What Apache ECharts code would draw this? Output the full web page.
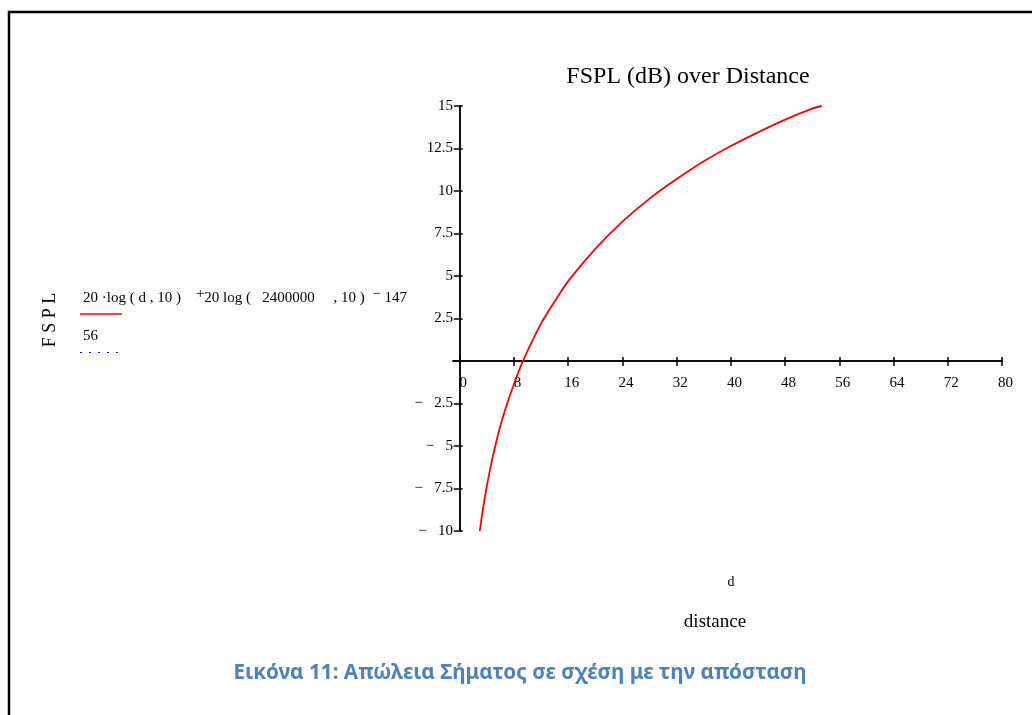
<!DOCTYPE html>
<html lang="el">
<head>
    <meta charset="UTF-8">
    <title>FSPL (dB) over Distance</title>
    <style>
        html,body {
            height: 100%;
            width: 100%;
            margin: 0;
            padding: 0;
            overflow: hidden;
            background: #fff;
        }
        #chart {
            width: 1032px;
            height: 715px;
        }
    </style>
</head>
<body>
    <div id="chart"></div>
</body>
<script type="text/javascript" src="https://cdn.jsdelivr.net/npm/echarts@6/dist/echarts.min.js"></script>
<script type="text/javascript">

    // values
    var distance = [2.95, 3.25, 3.5, 4, 4.5, 5, 6, 7, 8, 9, 10, 12, 14, 16, 20, 24, 28, 32, 36, 40, 44, 48, 52, 53.4];
    var fspl = [-10, -9.15, -8.5, -7.35, -6.33, -5.4, -3.8, -2.5, -1.35, -0.3, 0.6, 2.2, 3.5, 4.7, 6.6, 8.2, 9.55, 10.7, 11.75, 12.65, 13.45, 14.2, 14.85, 15];
    var xTicks = [0, 8, 16, 24, 32, 40, 48, 56, 64, 72, 80];
    var yTicks = [-10, -7.5, -5, -2.5, 2.5, 5, 7.5, 10, 12.5, 15];

    var serif = '"Liberation Serif", "DejaVu Serif", serif';

    function fsplChart() {
        var points = distance.map(function (d, i) {
            return [d, fspl[i]];
        });

        var lineStyle = { color: '#000', width: 1.5 };

        var option = {
            animation: false,
            backgroundColor: '#fff',
            title: {
                text: 'FSPL (dB) over Distance',
                left: 683,
                top: 60,
                textAlign: 'center',
                textStyle: {
                    fontFamily: serif,
                    fontWeight: 'normal',
                    fontSize: 24,
                    color: '#000'
                }
            },
            grid: {
                left: 453,
                right: 30,
                top: 106,
                bottom: 184
            },
            xAxis: [{
                type: 'value',
                min: -1,
                max: 80,
                position: 'bottom',
                axisLine: { onZero: true, onZeroAxisIndex: 0, lineStyle: lineStyle },
                axisTick: { customValues: xTicks, length: 5, lineStyle: lineStyle },
                axisLabel: {
                    customValues: xTicks,
                    // labels sit at the grid edge, pull them up under the zero line
                    margin: -155,
                    padding: [0, 0, 0, 7],
                    fontFamily: serif,
                    fontSize: 15,
                    color: '#000'
                },
                splitLine: { show: false }
            }, {
                // second copy only for the upward half of the ticks
                type: 'value',
                min: -1,
                max: 80,
                position: 'top',
                axisLine: { onZero: true, onZeroAxisIndex: 0, lineStyle: lineStyle },
                axisTick: { customValues: xTicks, length: 4, lineStyle: lineStyle },
                axisLabel: { show: false },
                splitLine: { show: false }
            }],
            yAxis: [{
                type: 'value',
                min: -10,
                max: 15,
                position: 'left',
                axisLine: { show: true, onZero: true, onZeroAxisIndex: 0, lineStyle: lineStyle },
                axisTick: { show: true, customValues: yTicks, length: 6, lineStyle: lineStyle },
                axisLabel: {
                    customValues: yTicks,
                    margin: 0,
                    padding: [5, 0, 0, 0],
                    fontFamily: serif,
                    fontSize: 15,
                    color: '#000',
                    formatter: function (v) {
                        return v < 0 ? '\u2212   ' + Math.abs(v) : String(v);
                    }
                },
                splitLine: { show: false }
            }, {
                type: 'value',
                min: -10,
                max: 15,
                position: 'right',
                axisLine: { show: true, onZero: true, onZeroAxisIndex: 0, lineStyle: lineStyle },
                axisTick: { show: true, customValues: yTicks, length: 3, lineStyle: lineStyle },
                axisLabel: { show: false },
                splitLine: { show: false }
            }],
            graphic: [{
                type: 'rect',
                z: -10,
                shape: { x: 9, y: 12, width: 1100, height: 800 },
                style: { fill: 'none', stroke: '#000', lineWidth: 2.5 }
            }, {
                type: 'text',
                x: 50,
                y: 320,
                rotation: Math.PI / 2,
                style: {
                    text: 'F S P L',
                    font: '18px ' + serif,
                    fill: '#000',
                    align: 'center',
                    verticalAlign: 'middle'
                }
            }, {
                type: 'text',
                x: 83,
                y: 298,
                style: {
                    text: '20 \u00b7log ( d , 10 )    {sup|+}20 log (   2400000     , 10 )  {sup|\u2212} 147',
                    font: '15px ' + serif,
                    fill: '#000',
                    verticalAlign: 'middle',
                    rich: {
                        sup: { fontSize: 15, fontFamily: serif, padding: [0, 0, 7, 0], fill: '#000' }
                    }
                }
            }, {
                type: 'line',
                shape: { x1: 80, y1: 314, x2: 122, y2: 314 },
                style: { stroke: '#ff0000', lineWidth: 1.5 }
            }, {
                type: 'text',
                x: 83,
                y: 336,
                style: {
                    text: '56',
                    font: '15px ' + serif,
                    fill: '#000',
                    verticalAlign: 'middle'
                }
            }, {
                type: 'line',
                shape: { x1: 80, y1: 352.5, x2: 119, y2: 352.5 },
                style: { stroke: '#0000ff', lineWidth: 1.2, lineDash: [2, 7] }
            }, {
                type: 'text',
                x: 731,
                y: 582,
                style: {
                    text: 'd',
                    font: '14px ' + serif,
                    fill: '#000',
                    align: 'center',
                    verticalAlign: 'middle'
                }
            }, {
                type: 'text',
                x: 715,
                y: 622,
                style: {
                    text: 'distance',
                    font: '19px ' + serif,
                    fill: '#000',
                    align: 'center',
                    verticalAlign: 'middle'
                }
            }, {
                type: 'text',
                x: 520,
                y: 673,
                style: {
                    text: 'Εικόνα 11: Απώλεια Σήματος σε σχέση με την απόσταση',
                    font: 'bold 20.7px "Noto Sans", "Open Sans", sans-serif',
                    fill: '#4f81bd',
                    align: 'center',
                    verticalAlign: 'middle'
                }
            }],
            series: [{
                name: 'FSPL',
                type: 'line',
                xAxisIndex: 0,
                yAxisIndex: 0,
                data: points,
                smooth: 0.3,
                showSymbol: false,
                lineStyle: { color: '#ff0000', width: 1.8 }
            }]
        };
        return option;
    }

    var chart = echarts.init(document.getElementById('chart'));
    chart.setOption(fsplChart());

</script>
</html>
